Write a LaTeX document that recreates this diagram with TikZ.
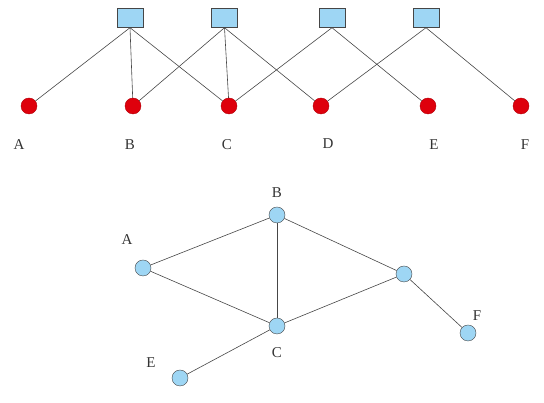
\documentclass[tikz,border=0pt]{standalone}
\usepackage{fontspec}
\setmainfont{Liberation Serif}
\usepackage{color}
\definecolor{lblue}{RGB}{158,214,244}
\definecolor{dred}{RGB}{222,0,12}
\definecolor{edgegray}{RGB}{70,70,70}

\begin{document}
\begin{tikzpicture}[x=1pt,y=1pt,
	sq/.style={draw=edgegray,fill=lblue,minimum width=26pt,minimum height=19pt,inner sep=0pt},
	rdot/.style={circle,draw=dred!80!black,fill=dred,minimum size=16pt,inner sep=0pt},
	bdot/.style={circle,draw=edgegray,fill=lblue,minimum size=16pt,inner sep=0pt},
	lab/.style={font=\fontsize{15}{17}\selectfont,text=black!80},
	edge/.style={draw=edgegray,line width=0.6pt}]
	\useasboundingbox (0,0) rectangle (544,403);
	% top: squares and red points
	\node[sq] (s1) at (130,385) {};
	\node[sq] (s2) at (224.5,385) {};
	\node[sq] (s3) at (332,385) {};
	\node[sq] (s4) at (426,385) {};
	\node[rdot] (a) at (29,297) {};
	\node[rdot] (b) at (133,297) {};
	\node[rdot] (c) at (229,297) {};
	\node[rdot] (d) at (321,297) {};
	\node[rdot] (e) at (428,297) {};
	\node[rdot] (f) at (521,297) {};
	\node[lab] (la) at (19,258) {A};
	\node[lab] (lb) at (130,258) {B};
	\node[lab] (lc) at (227,258) {C};
	\node[lab] (ld) at (328,259) {D};
	\node[lab] (le) at (434,258) {E};
	\node[lab] (lf) at (525,258) {F};
	\foreach \s/\t in {s1/a,s1/b,s1/c,s2/b,s2/c,s2/d,s3/c,s3/e,s4/d,s4/f}
	{
		\draw[edge] (\s.south) -- (\t);
	}
	% bottom: graph
	\node[bdot] (gb) at (277,188) {};
	\node[bdot] (ga) at (143,135) {};
	\node[bdot] (gc) at (277,77) {};
	\node[bdot] (ge) at (180,25) {};
	\node[bdot] (gr) at (404,129) {};
	\node[bdot] (gf) at (468,70) {};
	\node[lab] (lgb) at (277,210) {B};
	\node[lab] (lga) at (127,163) {A};
	\node[lab] (lgc) at (277,50) {C};
	\node[lab] (lge) at (151,40) {E};
	\node[lab] (lgf) at (477,87) {F};
	\foreach \s/\t in {ga/gb,ga/gc,gb/gc,gb/gr,gc/gr,gr/gf,gc/ge}
	{
		\draw[edge] (\s) -- (\t);
	}
\end{tikzpicture}
\end{document}
